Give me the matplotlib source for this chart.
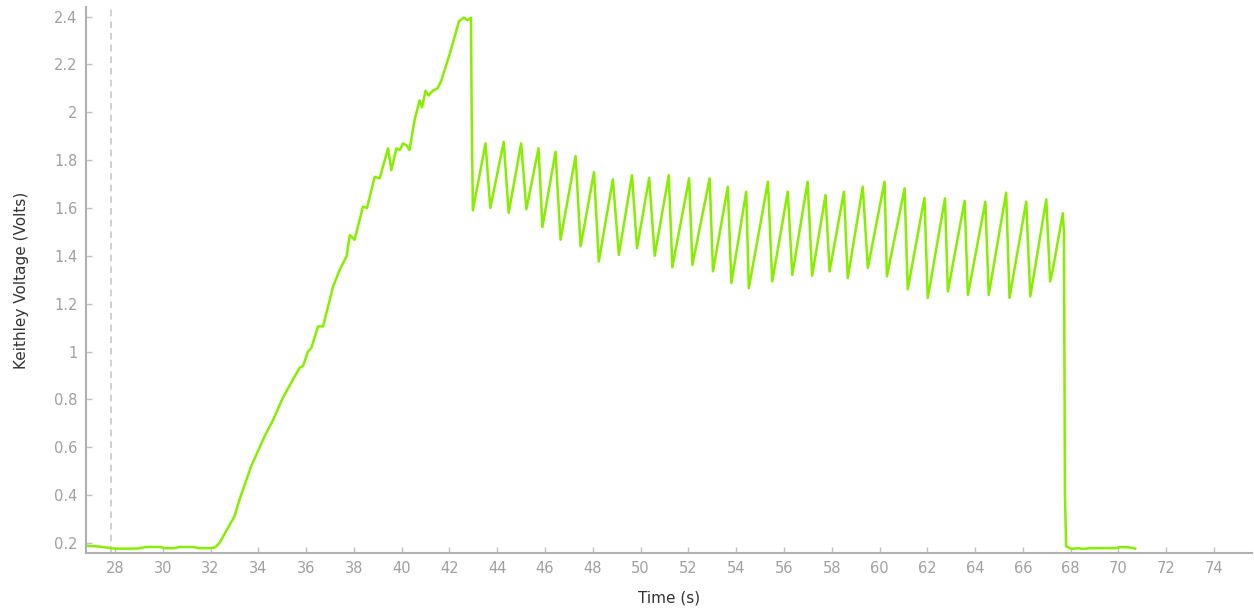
"""
Keithley voltage trace against time
"""

import matplotlib.pyplot as plt
import numpy as np

# values
time_s = [26.8, 27.3, 27.7, 28.0, 28.6, 29.0, 29.3, 29.9, 30.1, 30.5, 30.7, 31.3,
          31.5, 32.0, 32.2, 32.38, 32.6, 33.0, 33.22, 33.7, 34.27, 34.6, 35.03,
          35.45, 35.73, 35.87, 36.08, 36.22, 36.5, 36.71, 36.92, 37.13, 37.41,
          37.69, 37.83, 38.03, 38.38, 38.55, 38.87, 39.08, 39.43, 39.57, 39.78,
          39.92, 40.06, 40.2, 40.33, 40.54, 40.75, 40.85, 41.0, 41.13, 41.3,
          41.5, 41.65, 42.0, 42.4, 42.6, 42.75, 42.9, 42.93, 42.98,
          43.51, 43.71, 44.27, 44.48, 45.0, 45.22, 45.73, 45.89, 46.44, 46.65,
          47.28, 47.49, 48.05, 48.25, 48.84, 49.09, 49.64, 49.85, 50.36, 50.59,
          51.18, 51.33, 52.03, 52.17, 52.89, 53.03, 53.65, 53.8, 54.42, 54.53,
          55.33, 55.51, 56.16, 56.35, 56.99, 57.18, 57.74, 57.91, 58.51, 58.67,
          59.3, 59.51, 60.21, 60.31, 61.05, 61.18, 61.88, 62.02, 62.74, 62.86,
          63.56, 63.7, 64.43, 64.57, 65.3, 65.44, 66.14, 66.31, 66.98, 67.14,
          67.25, 67.67, 67.72, 67.76, 67.81, 68.02, 68.3, 68.5, 68.86, 69.9,
          70.04, 70.39, 70.64, 70.7]
voltage = [0.188, 0.185, 0.18, 0.176, 0.176, 0.177, 0.183, 0.183, 0.178, 0.178,
           0.183, 0.183, 0.178, 0.178, 0.182, 0.2, 0.24, 0.31, 0.383, 0.52,
           0.647, 0.71, 0.807, 0.883, 0.932, 0.939, 1.0, 1.015, 1.105, 1.105,
           1.189, 1.272, 1.342, 1.397, 1.487, 1.467, 1.606, 1.6, 1.73, 1.724,
           1.849, 1.758, 1.849, 1.842, 1.87, 1.862, 1.842, 1.967, 2.05, 2.02,
           2.09, 2.07, 2.09, 2.1, 2.13, 2.24, 2.38, 2.396, 2.385, 2.395, 2.0,
           1.59,
           1.87, 1.6, 1.876, 1.58, 1.87, 1.595, 1.85, 1.52, 1.835, 1.467,
           1.817, 1.44, 1.75, 1.376, 1.72, 1.404, 1.737, 1.432, 1.726, 1.4,
           1.737, 1.352, 1.724, 1.362, 1.724, 1.335, 1.689, 1.286, 1.668, 1.265,
           1.71, 1.293, 1.668, 1.32, 1.71, 1.317, 1.654, 1.335, 1.668, 1.307,
           1.689, 1.349, 1.71, 1.314, 1.682, 1.26, 1.642, 1.224, 1.64, 1.251,
           1.63, 1.237, 1.626, 1.237, 1.664, 1.224, 1.626, 1.23, 1.636, 1.293,
           1.34, 1.578, 1.5, 0.4, 0.186, 0.175, 0.178, 0.175, 0.178, 0.178,
           0.182, 0.182, 0.178, 0.176]

marker_time = 27.83

fig = plt.figure(figsize=(12.54, 6.11), dpi=100)
ax = fig.add_axes([0.0686, 0.095, 0.9300, 0.8935])

ax.axvline(marker_time, color="#c8c8c8", linestyle=(0, (4, 3)), linewidth=1.2)
ax.plot(time_s, voltage, color="#88ee00", linewidth=1.8)

ax.set_xlim(26.79, 75.6)
ax.set_ylim(0.158, 2.44)
ax.set_xticks(np.arange(28, 76, 2))
ax.set_yticks([0.2, 0.4, 0.6, 0.8, 1, 1.2, 1.4, 1.6, 1.8, 2, 2.2, 2.4])
ax.set_yticklabels(["0.2", "0.4", "0.6", "0.8", "1", "1.2", "1.4", "1.6",
                    "1.8", "2", "2.2", "2.4"])

for side in ["top", "right"]:
    ax.spines[side].set_visible(False)
for side in ["left", "bottom"]:
    ax.spines[side].set_color("#b0b0b0")
    ax.spines[side].set_linewidth(1.5)

ax.tick_params(direction="in", length=4, width=1, color="#c0c0c0",
               labelcolor="#a0a0a0", labelsize=10.5, pad=6)

ax.set_xlabel("Time (s)", fontsize=11, color="#333333", labelpad=10)
ax.set_ylabel("Keithley Voltage (Volts)", fontsize=11, color="#333333",
              labelpad=18)

fig.savefig("out.png", dpi=100)
plt.close(fig)
